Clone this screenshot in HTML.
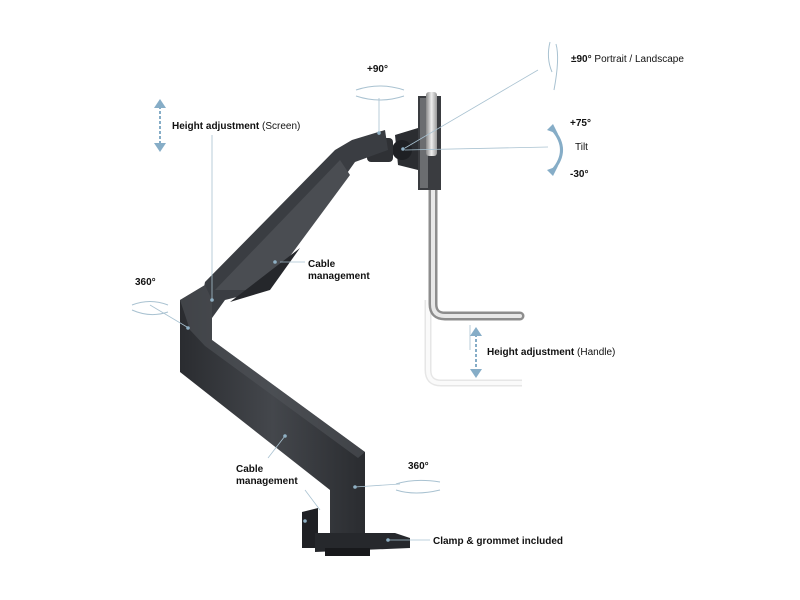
<!DOCTYPE html>
<html><head><meta charset="utf-8"><style>
html,body{margin:0;padding:0;background:#fff;width:800px;height:600px;overflow:hidden}
svg{display:block}
text{font-family:"Liberation Sans",sans-serif;font-size:10px;fill:#111}
.b{font-weight:bold}
</style></head><body>
<svg width="800" height="600" viewBox="0 0 800 600">
<defs>
<linearGradient id="g1" x1="0" y1="0" x2="1" y2="0"><stop offset="0" stop-color="#2a2c30"/><stop offset="0.5" stop-color="#44474c"/><stop offset="1" stop-color="#2a2c30"/></linearGradient>
<linearGradient id="sv" x1="0" y1="0" x2="1" y2="0"><stop offset="0" stop-color="#888"/><stop offset="0.5" stop-color="#eee"/><stop offset="1" stop-color="#999"/></linearGradient>
</defs>
<!-- ghost handle -->
<path d="M428 300 L428 370 Q428 383 441 383 L522 383" fill="none" stroke="#e6e6e6" stroke-width="7"/>
<path d="M428 300 L428 370 Q428 383 441 383 L522 383" fill="none" stroke="#fafafa" stroke-width="4"/>
<!-- handle -->
<path d="M433 180 L433 304 Q433 316 445 316 L520 316" fill="none" stroke="#8d8d8d" stroke-width="9" stroke-linecap="round"/>
<path d="M433 180 L433 304 Q433 316 445 316 L520 316" fill="none" stroke="#e8e8e8" stroke-width="4" stroke-linecap="round"/>
<!-- plate -->
<rect x="418" y="96" width="23" height="94" fill="#3a3c40"/>
<rect x="420" y="98" width="8" height="90" fill="#6b6d70"/>
<rect x="426" y="92" width="11" height="64" rx="3" fill="url(#sv)"/>
<!-- tilt head -->
<path d="M395 135 L418 128 L418 170 L398 165 Z" fill="#2b2d31"/>
<circle cx="402" cy="150" r="10" fill="#1e2024"/>
<rect x="367" y="138" width="26" height="24" rx="4" fill="#2f3135"/>
<!-- upper arm -->
<path d="M205 282 L335 150 L352 140 L385 130 L388 150 L355 162 L335 190 L300 240 L265 290 L225 300 L212 318 L198 318 Z" fill="#3a3d42"/>
<path d="M215 290 L340 160 L350 175 L265 290 Z" fill="#4a4d52"/>
<path d="M230 302 L300 248 L270 290 Z" fill="#25272b"/>
<!-- lower arm -->
<path d="M180 300 L205 285 L212 300 L212 340 L365 452 L365 535 L330 535 L330 490 L180 372 Z" fill="url(#g1)"/>
<path d="M180 300 L205 285 L212 300 L212 340 L365 452 L358 458 L205 346 L190 330 Z" fill="#505358" opacity="0.6"/>
<!-- clamp -->
<path d="M302 512 L318 508 L318 548 L302 548 Z" fill="#1f2024"/>
<path d="M315 533 L395 533 L410 538 L410 548 L315 552 Z" fill="#26282c"/>
<rect x="325" y="548" width="45" height="8" fill="#18191c"/>
<!-- connector lines -->
<g stroke="#a9c2d1" stroke-width="0.8" fill="none">
<line x1="212" y1="135" x2="212" y2="300"/>
<line x1="280" y1="262" x2="305" y2="262"/>
<line x1="285" y1="436" x2="268" y2="458"/>
<line x1="305" y1="490" x2="320" y2="510"/>
<line x1="355" y1="487" x2="400" y2="484"/>
<line x1="388" y1="540" x2="430" y2="540"/>
<line x1="150" y1="305" x2="187" y2="327"/>
<line x1="379" y1="98" x2="379" y2="135"/>
<line x1="405" y1="148" x2="538" y2="70"/>
<line x1="405" y1="150" x2="548" y2="147"/>
<line x1="470" y1="325" x2="470" y2="350"/>
</g>
<g fill="#8fb0c4">
<circle cx="212" cy="300" r="1.8"/><circle cx="275" cy="262" r="1.8"/><circle cx="285" cy="436" r="1.8"/>
<circle cx="305" cy="521" r="1.8"/><circle cx="355" cy="487" r="1.8"/><circle cx="388" cy="540" r="1.8"/>
<circle cx="188" cy="328" r="1.8"/><circle cx="379" cy="133" r="1.8"/><circle cx="403" cy="149" r="1.8"/>
</g>
<!-- rotation ellipses -->
<g fill="none" stroke="#a9c2d1" stroke-width="1">
<path d="M356 90 Q380 82 404 90"/><path d="M356 96 Q380 104 404 96"/>
<path d="M132 305 Q150 298 168 305"/><path d="M132 310 Q150 318 168 312"/>
<path d="M396 484 Q415 478 440 482"/><path d="M396 490 Q415 496 440 490"/>
<path d="M550 42 Q546 58 552 72"/><path d="M556 44 Q560 58 554 90"/>
</g>
<!-- arrows -->
<g stroke="#86adc7" stroke-width="2" fill="#86adc7">
<line x1="160" y1="106" x2="160" y2="146" stroke-dasharray="3 2"/>
<path d="M154 108 L160 99 L166 108 Z" stroke="none"/><path d="M154 143 L160 152 L166 143 Z" stroke="none"/>
<line x1="476" y1="334" x2="476" y2="372" stroke-dasharray="3 2"/>
<path d="M470 336 L476 327 L482 336 Z" stroke="none"/><path d="M470 369 L476 378 L482 369 Z" stroke="none"/>
<path d="M553 130 Q570 150 553 170" fill="none" stroke-width="3"/>
<path d="M547 130 L553 124 L558 134 Z" stroke="none"/><path d="M547 170 L553 176 L558 166 Z" stroke="none"/>
</g>
<!-- labels -->
<text x="172" y="129"><tspan class="b">Height adjustment</tspan> (Screen)</text>
<text x="367" y="72" class="b">+90°</text>
<text x="308" y="267" class="b">Cable</text>
<text x="308" y="279" class="b">management</text>
<text x="135" y="285" class="b">360°</text>
<text x="236" y="472" class="b">Cable</text>
<text x="236" y="484" class="b">management</text>
<text x="408" y="469" class="b">360°</text>
<text x="433" y="544" class="b">Clamp &amp; grommet included</text>
<text x="571" y="62"><tspan class="b">±90°</tspan> Portrait / Landscape</text>
<text x="570" y="126" class="b">+75°</text>
<text x="575" y="150">Tilt</text>
<text x="570" y="177" class="b">-30°</text>
<text x="487" y="355"><tspan class="b">Height adjustment</tspan> (Handle)</text>
</svg>
</body></html>
